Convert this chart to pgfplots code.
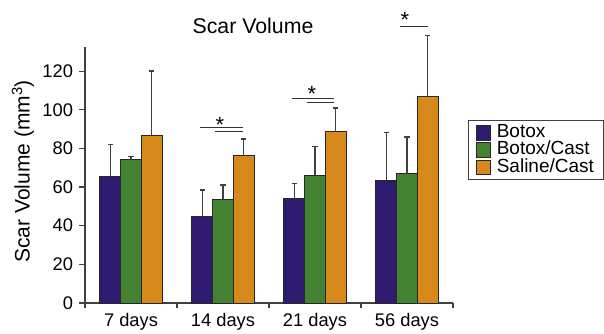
\documentclass[border=0pt]{standalone}
\usepackage{pgfplots}
\pgfplotsset{compat=1.18}
\usepackage{fontspec}
\setmainfont{Liberation Sans}
\definecolor{cBot}{HTML}{2E1A6F}
\definecolor{cBC}{HTML}{428230}
\definecolor{cSC}{HTML}{D68A1C}
\definecolor{cAx}{HTML}{404040}
\begin{document}
\begin{tikzpicture}[x=1pt,y=1pt]
\path[use as bounding box] (0,0) rectangle (604,333);
\node[font=\fontsize{21.3}{24}\selectfont] at (253,307) {Scar Volume};
\begin{axis}[
  at={(85pt,30pt)}, anchor=south west,
  scale only axis, width=368pt, height=256.3pt,
  xmin=-0.5, xmax=3.5, ymin=0, ymax=132.6,
  axis x line*=bottom, axis y line*=left,
  axis line style={cAx, line width=1.2pt, -},
  clip=false,
  xtick={0,1,2,3},
  xticklabels={7 days,14 days,21 days,56 days},
  minor xtick={-0.5,0.5,1.5,2.5,3.5},
  ytick={0,20,...,120},
  tick align=outside,
  major x tick style={draw=none},
  minor tick length=5pt, major tick length=6pt,
  every tick/.style={cAx, line width=1.1pt},
  tick label style={font=\fontsize{18.3}{21}\selectfont},
  yticklabel style={xshift=-2.5pt},
  xticklabel style={yshift=-1pt},
  ylabel={Scar Volume (mm\textsuperscript{3})},
  ylabel style={font=\fontsize{21}{24}\selectfont, at={(axis description cs:0,0.513)}, anchor=center, yshift=62pt},
  /pgf/number format/assume math mode=true,
  legend style={at={(1.0416,0.7144)}, anchor=north west, draw=cAx, line width=1pt,
    font=\fontsize{19}{19}\selectfont, row sep=1.8pt, inner xsep=7.5pt, inner ysep=4.5pt,
    nodes={inner ysep=0pt, inner xsep=2pt, text height=12.3pt, text depth=3.3pt},
    /tikz/every odd column/.append style={column sep=3.5pt}},
  legend cell align=left,
  legend image code/.code={\draw[#1, line width=1pt] (0pt,-7.3pt) rectangle (14pt,7.3pt);},
  error bars/y dir=plus, error bars/y explicit,
  error bars/error bar style={cAx, line width=1.3pt},
  error bars/error mark options={cAx, line width=1.3pt, mark size=2.7pt, rotate=90},
]
\addplot[ybar, bar width=0.225, bar shift=0, fill=cBot, draw=black!85, line width=1pt]
  coordinates {(-0.225,65.7) +- (0,16.2) (0.775,45.0) +- (0,13.5) (1.775,54.2) +- (0,7.7) (2.775,63.5) +- (0,24.8)};
\addplot[ybar, bar width=0.225, bar shift=0, fill=cBC, draw=black!85, line width=1pt]
  coordinates {(0,74.0) +- (0,1.7) (1,53.6) +- (0,7.4) (2,66.0) +- (0,14.9) (3,66.9) +- (0,19.0)};
\addplot[ybar, bar width=0.225, bar shift=0, fill=cSC, draw=black!85, line width=1pt]
  coordinates {(0.225,86.9) +- (0,33.1) (1.225,76.2) +- (0,8.6) (2.225,88.6) +- (0,12.3) (3.225,106.6) +- (0,31.7)};
\legend{Botox, Botox/Cast, Saline/Cast}
% significance lines
\addplot[forget plot, black!80, line width=1.1pt] coordinates {(0.75,90.7) (1.217,90.7)};
\addplot[forget plot, black!80, line width=1.1pt] coordinates {(0.913,88.6) (1.217,88.6)};
\addplot[forget plot, black!80, line width=1.1pt] coordinates {(1.747,105.9) (2.21,105.9)};
\addplot[forget plot, black!80, line width=1.1pt] coordinates {(1.910,103.6) (2.21,103.6)};
\addplot[forget plot, black!80, line width=1.1pt] coordinates {(2.924,143.0) (3.225,143.0)};
\node[font=\fontsize{22}{22}\selectfont, anchor=center] at (axis cs:0.967,92.3) {*};
\node[font=\fontsize{22}{22}\selectfont, anchor=center] at (axis cs:1.967,108.3) {*};
\node[font=\fontsize{22}{22}\selectfont, anchor=center] at (axis cs:2.978,146.3) {*};
\end{axis}
\end{tikzpicture}
\end{document}
